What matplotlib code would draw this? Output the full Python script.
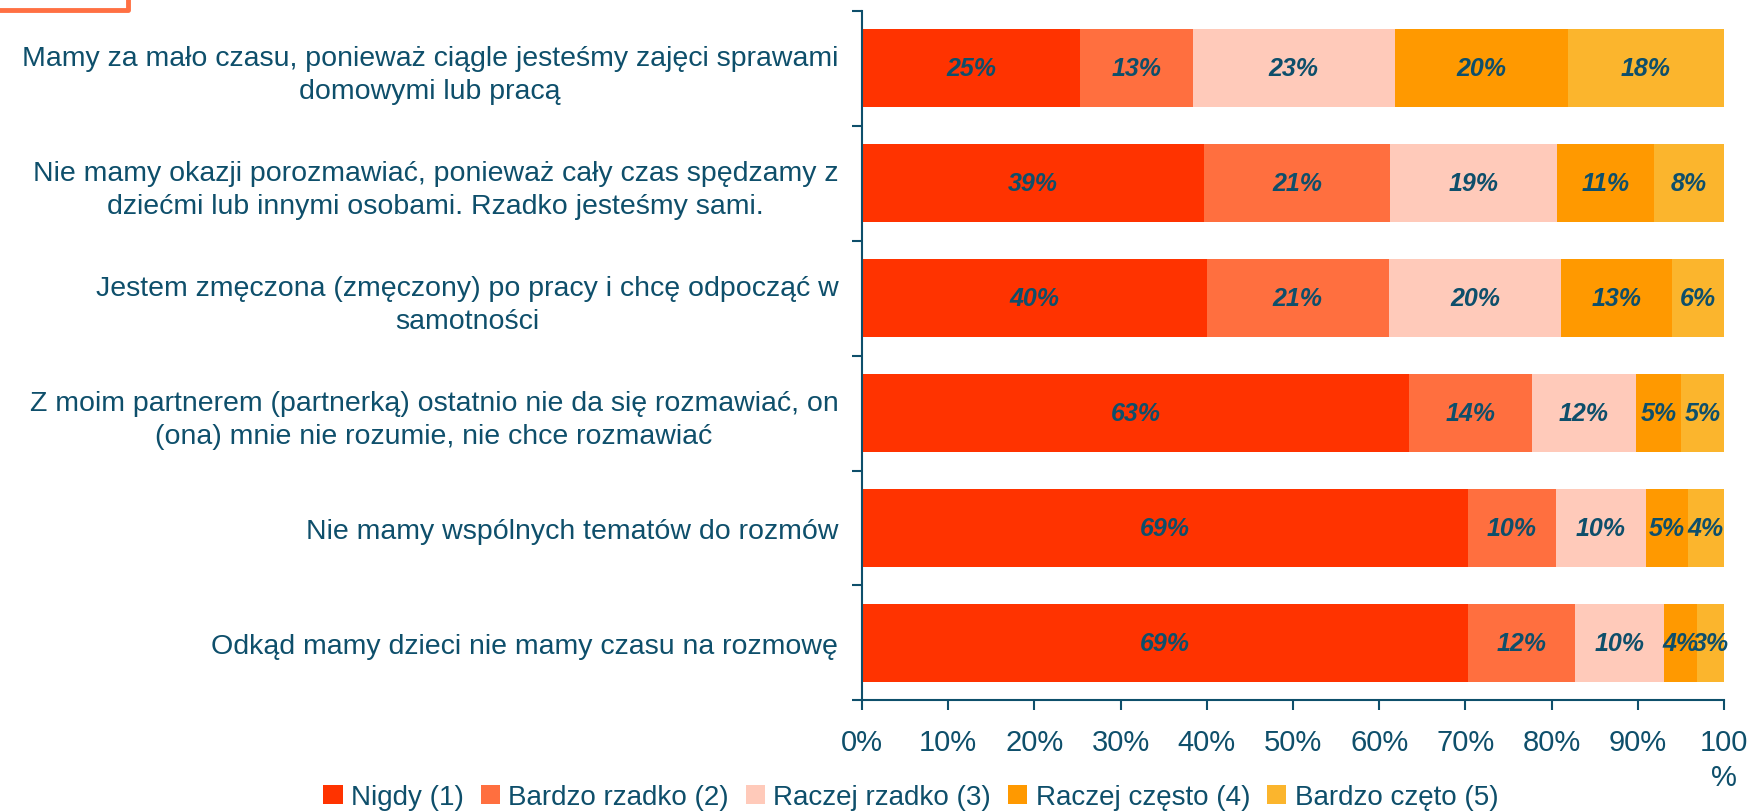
import numpy as np
import matplotlib.pyplot as plt
from matplotlib.patches import Patch
import matplotlib.lines as mlines

plt.rcParams['font.family'] = ['Liberation Sans', 'DejaVu Sans']

################################################################################
# Data
categories = [
    "Mamy za mało czasu, ponieważ ciągle jesteśmy zajęci sprawami\ndomowymi lub pracą",
    "Nie mamy okazji porozmawiać, ponieważ cały czas spędzamy z\ndziećmi lub innymi osobami. Rzadko jesteśmy sami.",
    "Jestem zmęczona (zmęczony) po pracy i chcę odpocząć w\nsamotności",
    "Z moim partnerem (partnerką) ostatnio nie da się rozmawiać, on\n(ona) mnie nie rozumie, nie chce rozmawiać",
    "Nie mamy wspólnych tematów do rozmów",
    "Odkąd mamy dzieci nie mamy czasu na rozmowę",
]
series = ["Nigdy (1)", "Bardzo rzadko (2)", "Raczej rzadko (3)", "Raczej często (4)", "Bardzo częto (5)"]

nigdy      = [25.3, 39.7, 40.0, 63.5, 70.3, 70.3]
b_rzadko   = [13.1, 21.6, 21.1, 14.2, 10.2, 12.4]
r_rzadko   = [23.4, 19.3, 20.0, 12.1, 10.4, 10.3]
r_czesto   = [20.1, 11.3, 12.9,  5.2,  4.9,  3.9]
b_czesto   = [18.1,  8.1,  6.0,  5.0,  4.2,  3.1]

lab_nigdy    = ["25%", "39%", "40%", "63%", "69%", "69%"]
lab_b_rzadko = ["13%", "21%", "21%", "14%", "10%", "12%"]
lab_r_rzadko = ["23%", "19%", "20%", "12%", "10%", "10%"]
lab_r_czesto = ["20%", "11%", "13%", "5%", "5%", "4%"]
lab_b_czesto = ["18%", "8%", "6%", "5%", "4%", "3%"]

xticklabels = ["0%", "10%", "20%", "30%", "40%", "50%", "60%", "70%", "80%", "90%", "100\n%"]

colors = ['#FF3300', '#FF6F3F', '#FFCABA', '#FF9900', '#FBB52D']
txt = '#0E4F6B'

values = [nigdy, b_rzadko, r_rzadko, r_czesto, b_czesto]
labels = [lab_nigdy, lab_b_rzadko, lab_r_rzadko, lab_r_czesto, lab_b_czesto]

################################################################################
fig = plt.figure(figsize=(17.48, 8.12), dpi=100)
ax = fig.add_axes([0.4931, 0.1361, 0.4932, 0.8497])

y = np.arange(len(categories))
left = np.zeros(len(categories))
for vals, labs, col in zip(values, labels, colors):
    vals = np.array(vals)
    ax.barh(y, vals, left=left, height=0.68, color=col, edgecolor='none')
    for yi, (l, v, s) in enumerate(zip(left, vals, labs)):
        ax.text(l + v/2, yi, s, ha='center', va='center', color=txt,
                fontsize=18, fontweight='bold', fontstyle='italic')
    left += vals

ax.set_xlim(0, 100)
ax.set_ylim(len(categories) - 0.5, -0.5)

ax.set_xticks(np.arange(0, 101, 10))
ax.set_xticklabels(xticklabels, fontsize=21, color=txt, linespacing=1.3, va='top')
ax.tick_params(axis='x', direction='out', length=7, width=1.5, color=txt, pad=13)

ax.set_yticks(y)
ax.set_yticklabels(categories, fontsize=20.5, color=txt, linespacing=1.35)
for lbl in ax.get_yticklabels():
    lbl.set_multialignment('center')
ax.tick_params(axis='y', which='major', length=0, pad=17)
ax.set_yticks(np.arange(-0.5, len(categories)), minor=True)
ax.tick_params(axis='y', which='minor', direction='out', length=7, width=1.5, color=txt)

for side in ['top', 'right']:
    ax.spines[side].set_visible(False)
for side in ['left', 'bottom']:
    ax.spines[side].set_color(txt)
    ax.spines[side].set_linewidth(1.5)

handles = [Patch(facecolor=c, edgecolor='none') for c in colors]
fig.legend(handles, series, loc='center', bbox_to_anchor=(0.521, 0.017), ncol=5,
           frameon=False, fontsize=20, handlelength=0.7, handleheight=0.7,
           handletextpad=0.3, columnspacing=0.6, labelcolor=txt)

# corner of an orange frame in the top left
fig.add_artist(mlines.Line2D([0, 128/1748, 128/1748], [1 - 11/812, 1 - 11/812, 1.0],
                             transform=fig.transFigure, color='#FF7043', lw=3.5))

fig.savefig('out.png', dpi=100)
